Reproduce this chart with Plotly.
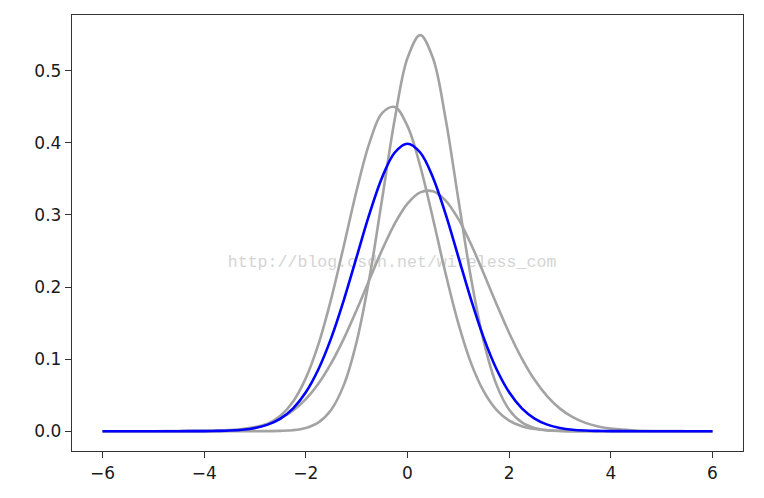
import plotly.graph_objects as go

x_vals = [-6, -5.5, -5, -4.5, -4, -3.75, -3.5, -3.25, -3, -2.75, -2.5, -2.25, -2,
          -1.75, -1.5, -1.25, -1, -0.75, -0.5, -0.25, 0, 0.25, 0.5, 0.75, 1,
          1.25, 1.5, 1.75, 2, 2.25, 2.5, 2.75, 3, 3.25, 3.5, 3.75, 4, 4.5, 5, 5.5, 6]

# main (blue) density
blue_y = [0, 0, 0, 0, 0.0001, 0.0004, 0.0009, 0.0020, 0.0044, 0.0091, 0.0175, 0.0317, 0.0540,
          0.0863, 0.1295, 0.1826, 0.2420, 0.3011, 0.3521, 0.3867, 0.3989, 0.3867, 0.3521, 0.3011, 0.2420,
          0.1826, 0.1295, 0.0863, 0.0540, 0.0317, 0.0175, 0.0091, 0.0044, 0.0020, 0.0009, 0.0004, 0.0001, 0, 0, 0, 0]

# grey densities
grey_a = [0, 0, 0, 0, 0, 0, 0, 0, 0.0000, 0.0001, 0.0004, 0.0014, 0.0045,
          0.0122, 0.0298, 0.0646, 0.1243, 0.2123, 0.3218, 0.4333, 0.5179, 0.5496, 0.5179, 0.4333, 0.3218,
          0.2123, 0.1243, 0.0646, 0.0298, 0.0122, 0.0045, 0.0014, 0.0004, 0.0001, 0, 0, 0, 0, 0, 0, 0]

grey_b = [0, 0, 0, 0, 0.0001, 0.0002, 0.0007, 0.0018, 0.0045, 0.0102, 0.0214, 0.0413, 0.0736,
          0.1211, 0.1840, 0.2581, 0.3343, 0.3997, 0.4413, 0.4498, 0.4233, 0.3679, 0.2952, 0.2186, 0.1495,
          0.0944, 0.0551, 0.0296, 0.0147, 0.0068, 0.0029, 0.0011, 0.0004, 0.0001, 0, 0, 0, 0, 0, 0, 0]

grey_c = [0, 0, 0, 0.0001, 0.0004, 0.0008, 0.0016, 0.0031, 0.0058, 0.0103, 0.0176, 0.0286, 0.0445,
          0.0662, 0.0944, 0.1287, 0.1682, 0.2102, 0.2515, 0.2881, 0.3158, 0.3314, 0.3328, 0.3200, 0.2945,
          0.2593, 0.2187, 0.1765, 0.1363, 0.1008, 0.0713, 0.0483, 0.0313, 0.0194, 0.0115, 0.0066, 0.0036, 0.0009, 0.0002, 0, 0]

x_ticks = [-6, -4, -2, 0, 2, 4, 6]
y_ticks = [0.0, 0.1, 0.2, 0.3, 0.4, 0.5]
watermark = "http://blog.csdn.net/wireless_com"

fig = go.Figure()
for g in (grey_a, grey_b, grey_c):
    fig.add_trace(go.Scatter(x=x_vals, y=g, mode="lines",
                             line=dict(color="#a3a3a3", width=2.6, shape="spline"),
                             showlegend=False, hoverinfo="skip"))
fig.add_trace(go.Scatter(x=x_vals, y=blue_y, mode="lines",
                         line=dict(color="#0000ff", width=2.6, shape="spline"),
                         showlegend=False))

fig.add_shape(type="rect", xref="paper", yref="paper", x0=0.227, x1=0.727, y0=0.408, y1=0.468,
              line=dict(width=0), fillcolor="rgba(0,0,0,0)", layer="below",
              label=dict(text=watermark, textposition="middle center",
                         font=dict(family="Liberation Mono", size=16.6, color="#d4d4d4")))

axis_common = dict(showgrid=False, zeroline=False, showline=True, mirror=True,
                   linecolor="#333333", linewidth=1.4, ticks="outside", ticklen=6,
                   tickwidth=1.4, tickcolor="#333333",
                   tickfont=dict(family="DejaVu Sans", size=17, color="#1a1a1a"))

fig.update_xaxes(range=[-6.6, 6.6], tickvals=x_ticks,
                 ticktext=[("\u2212" + str(abs(v))) if v < 0 else str(v) for v in x_ticks],
                 **axis_common)
fig.update_yaxes(range=[-0.0275, 0.5775], tickvals=y_ticks,
                 ticktext=[f"{v:.1f}" for v in y_ticks], **axis_common)

fig.update_layout(width=764, height=498, margin=dict(l=64, r=29, t=7, b=55),
                  paper_bgcolor="white", plot_bgcolor="white")

fig.write_html("out.html")
